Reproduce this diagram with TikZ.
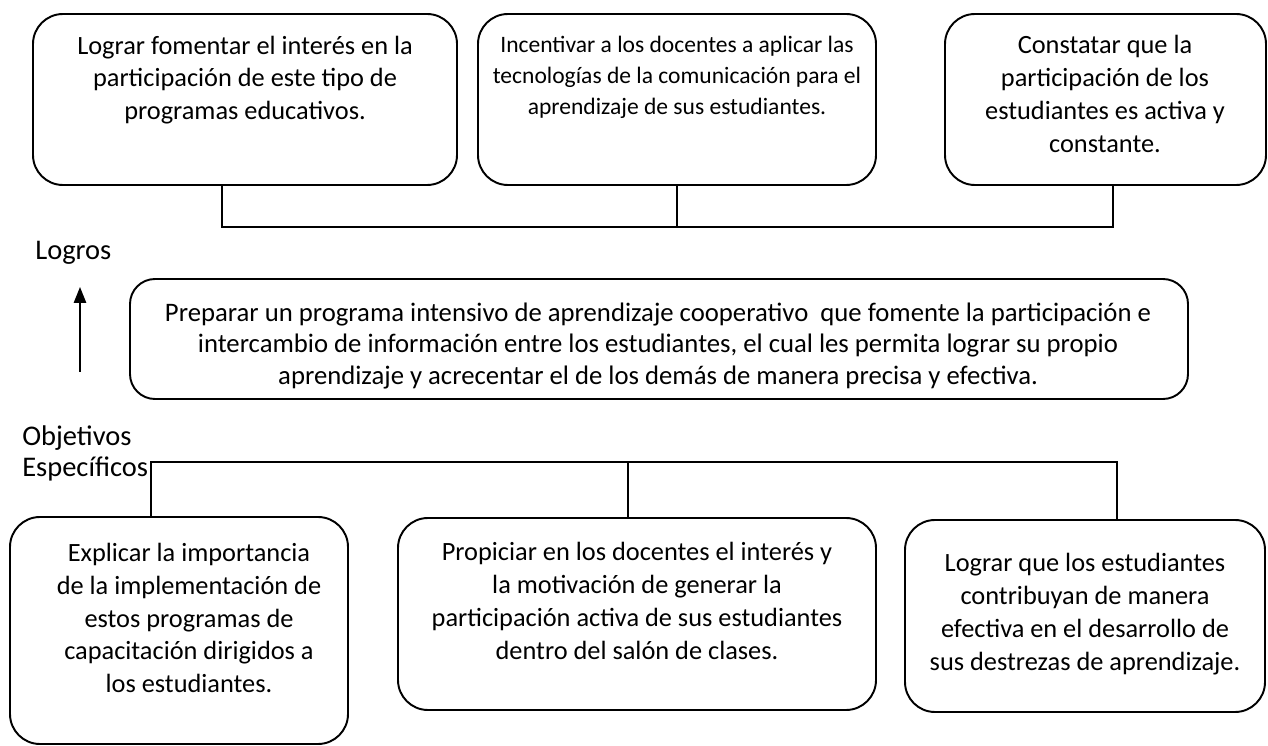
\documentclass[tikz,border=0pt]{standalone}
\usepackage{fontspec}
\setmainfont{Carlito}
\usetikzlibrary{arrows.meta,positioning,fit}

\tikzset{
  goal/.style={
    draw,
    line width=1.1pt,
    rounded corners=0.6cm,
    inner sep=0pt
  },
  txt/.style={
    align=center,
    inner sep=0pt,
    font=\fontsize{15}{18.7}\selectfont
  },
  smalltxt/.style={
    align=center,
    inner sep=0pt,
    font=\fontsize{13.4}{17.6}\selectfont
  },
  side/.style={
    align=left,
    anchor=west,
    inner sep=0pt,
    font=\fontsize{16.2}{17.6}\selectfont
  },
  link/.style={
    line width=0.8pt
  }
}

\begin{document}
\begin{tikzpicture}[x=0.02cm,y=-0.02cm]
        \useasboundingbox (0,0) rectangle (1268,746);

        % logros
        \node[goal, fit={(33,14) (457,185)}] (g1) {};
        \node[goal, fit={(478,14) (876,185)}] (g2) {};
        \node[goal, fit={(945,14) (1266,185)}] (g3) {};

        \node[txt] (t1) at (245,80) {Lograr fomentar el interés en la\\participación de este tipo de\\programas educativos.};
        \node[smalltxt] (t2) at (677,77) {Incentivar a los docentes a aplicar las\\tecnologías de la comunicación para el\\aprendizaje de sus estudiantes.};
        \node[txt] (t3) at (1105,94) {Constatar que la\\participación de los\\estudiantes es activa y\\constante.};

        \coordinate (jl) at (222,227);
        \coordinate (jr) at (1113,227);
        \draw[link] (g1.south -| jl) -- (jl) -- (jr) -- (g3.south -| jr);
        \draw[link] (g2.south) -- (g2.south |- jl);

        \node[side] (logros) at (35,253) {Logros};

        % objetivo general
        \node[goal, rounded corners=0.5cm, fit={(130,279) (1188,399)}] (og) {};
        \node[txt, font=\fontsize{15.2}{18.1}\selectfont] (tg) at (658,346) {Preparar un programa intensivo de aprendizaje cooperativo~ que fomente la participación e\\intercambio de información entre los estudiantes, el cual les permita lograr su propio\\aprendizaje y acrecentar el de los demás de manera precisa y efectiva.};

        \coordinate (afrom) at (80,372);
        \coordinate (ato) at (80,287);
        \draw[link, -{Triangle[length=9pt,width=7pt]}] (afrom) -- (ato);

        \node[side] (objetivos) at (22,453) {Objetivos\\Específicos};

        % objetivos especificos
        \node[goal, fit={(10,517) (348,744)}] (o1) {};
        \node[goal, fit={(398,518) (876,710)}] (o2) {};
        \node[goal, fit={(905,520) (1265,712)}] (o3) {};

        \node[txt] (b1) at (189,618) {Explicar la importancia\\de la implementación de\\estos programas de\\capacitación dirigidos a\\los estudiantes.};
        \node[txt] (b2) at (637,601) {Propiciar en los docentes el interés y\\la motivación de generar la\\participación activa de sus estudiantes\\dentro del salón de clases.};
        \node[txt] (b3) at (1085,614) {Lograr que los estudiantes\\contribuyan de manera\\efectiva en el desarrollo de\\sus destrezas de aprendizaje.};

        \coordinate (kl) at (151,462);
        \coordinate (km) at (628,462);
        \coordinate (kr) at (1117,462);
        \draw[link] (o1.north -| kl) -- (kl) -- (kr) -- (o3.north -| kr);
        \draw[link] (km) -- (o2.north -| km);
\end{tikzpicture}
\end{document}
